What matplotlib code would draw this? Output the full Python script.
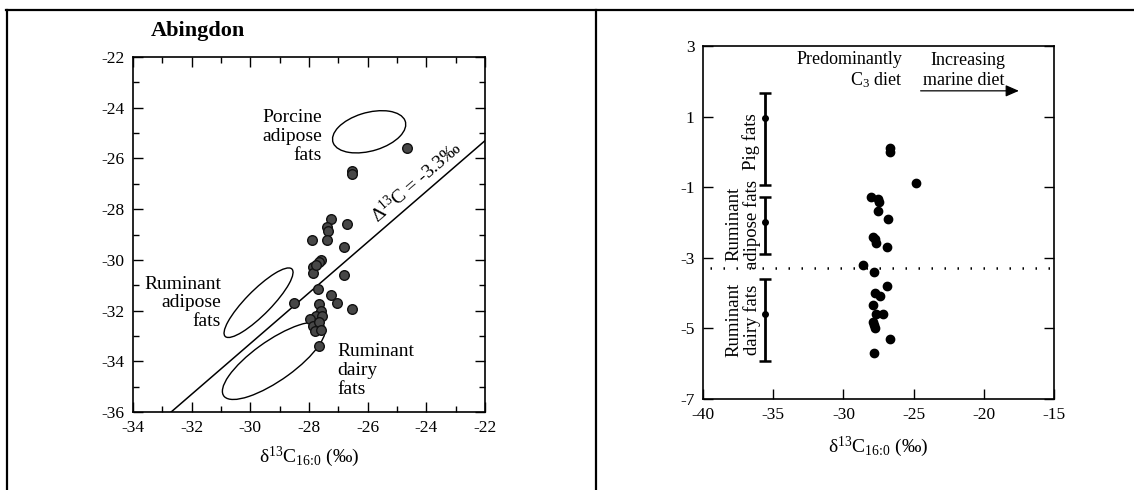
import numpy as np
import matplotlib
matplotlib.use('Agg')
import matplotlib.pyplot as plt
from matplotlib.patches import Ellipse
from matplotlib.lines import Line2D
from matplotlib.ticker import MultipleLocator

plt.rcParams['font.family'] = ['Liberation Serif', 'DejaVu Serif']
plt.rcParams['mathtext.fontset'] = 'custom'
plt.rcParams['mathtext.rm'] = 'Liberation Serif'
plt.rcParams['mathtext.it'] = 'Liberation Serif:italic'
plt.rcParams['mathtext.bf'] = 'Liberation Serif:bold'
plt.rcParams['axes.unicode_minus'] = False

# ---- Abingdon: d13C16:0 vs d13C18:0 ----
abg_x = [-24.65, -26.55, -26.55, -27.25, -27.4, -27.35, -27.4, -26.7, -27.9,
         -26.8, -27.6, -27.65, -27.85, -27.85, -27.75, -26.8, -27.7, -27.25,
         -27.05, -28.5, -26.55, -27.65, -27.6, -27.75, -27.55, -27.95, -27.85,
         -27.65, -27.8, -27.6, -27.65]
abg_y = [-25.6, -26.5, -26.6, -28.4, -28.7, -28.85, -29.2, -28.6, -29.2,
         -29.5, -30.0, -30.1, -30.3, -30.5, -30.2, -30.6, -31.15, -31.4,
         -31.7, -31.7, -31.95, -31.75, -32.0, -32.2, -32.2, -32.35, -32.6,
         -32.45, -32.8, -32.75, -33.4]

# reference ellipses: centre x, centre y, semi-major, semi-minor, angle
ellipse_names = ['Porcine', 'Ruminant adipose', 'Ruminant dairy']
ellipse_cx = [-25.95, -29.72, -29.2]
ellipse_cy = [-24.95, -31.69, -33.98]
ellipse_a = [1.3, 1.75, 2.2]
ellipse_b = [0.75, 0.45, 0.75]
ellipse_ang = [20, 50, 40]

line_offset = -3.3   # d13C18:0 = d13C16:0 - 3.3

# ---- Delta13C vs d13C16:0 ----
d16 = [-26.65, -26.65, -24.8, -28.0, -27.5, -27.45, -27.5, -26.8, -27.9,
       -27.75, -27.7, -26.9, -28.6, -27.8, -26.9, -27.75, -27.4, -27.9,
       -27.7, -27.2, -27.9, -27.8, -27.75, -26.65, -27.8]
big_delta = [0.12, 0.0, -0.88, -1.29, -1.34, -1.42, -1.68, -1.9, -2.41,
             -2.48, -2.58, -2.69, -3.21, -3.4, -3.79, -3.99, -4.08, -4.34,
             -4.58, -4.58, -4.81, -4.9, -5.0, -5.3, -5.69]

ref_names = ['Pig fats', 'Ruminant\nadipose fats', 'Ruminant\ndairy fats']
ref_mean = [0.97, -1.98, -4.6]
ref_low = [-0.94, -2.9, -5.92]
ref_high = [1.68, -1.29, -3.6]
ref_x = -35.6

xlabel = 'δ$^{13}$C$_{16\\!:\\!0}$ (‰)'

fig = plt.figure(figsize=(11.34, 4.9), dpi=100)
W, H = 1134, 490

def px_axes(l, t, r, b):
    return fig.add_axes([l / W, 1 - b / H, (r - l) / W, (b - t) / H])

# frame lines of the table layout
fig.add_artist(Line2D([6 / W, 1], [1 - 10.5 / H] * 2, color='black', lw=1.6))
fig.add_artist(Line2D([7 / W] * 2, [0, 1 - 10.5 / H], color='black', lw=1.6))
fig.add_artist(Line2D([595.5 / W] * 2, [0, 1 - 10.5 / H], color='black', lw=1.6))

# ================= left panel =================
ax1 = px_axes(133, 57, 485, 412)
ax1.set_xlim(-34, -22)
ax1.set_ylim(-36, -22)

xx = np.array([-34, -22])
ax1.plot(xx, xx + line_offset, color='black', lw=1.1)

for cx, cy, a, b, ang in zip(ellipse_cx, ellipse_cy, ellipse_a, ellipse_b, ellipse_ang):
    ax1.add_patch(Ellipse((cx, cy), 2 * a, 2 * b, angle=ang, fill=False,
                          edgecolor='black', lw=1.0))

ax1.scatter(abg_x, abg_y, s=48, facecolor='#474747', edgecolor='#111111',
            linewidths=1.0, zorder=5)

ax1.text(-27.56, -25.13, 'Porcine\nadipose\nfats', ha='right', va='center',
         multialignment='right', fontsize=14, linespacing=1.15)
ax1.text(-31.0, -31.7, 'Ruminant\nadipose\nfats', ha='right', va='center',
         multialignment='right', fontsize=14, linespacing=1.15)
ax1.text(-27.03, -34.35, 'Ruminant\ndairy\nfats', ha='left', va='center',
         multialignment='left', fontsize=14, linespacing=1.15)

ang = np.degrees(np.arctan2(355 / 14, 352 / 12))
ax1.text(-25.55, -28.7, 'Δ$^{13}$C = -3.3‰', rotation=ang,
         rotation_mode='anchor', ha='left', va='bottom', fontsize=14)

ax1.text(0.05, 1.045, 'Abingdon', transform=ax1.transAxes, fontsize=16,
         fontweight='bold', ha='left', va='bottom')

ax1.xaxis.set_major_locator(MultipleLocator(2))
ax1.xaxis.set_minor_locator(MultipleLocator(1))
ax1.yaxis.set_major_locator(MultipleLocator(2))
ax1.yaxis.set_minor_locator(MultipleLocator(1))
ax1.tick_params(which='both', direction='in', top=True, right=True,
                labelsize=12.5, width=1.0)
ax1.tick_params(which='major', length=7, pad=6)
ax1.tick_params(which='minor', length=4)
ax1.set_xlabel(xlabel, fontsize=14, labelpad=6)
for sp in ax1.spines.values():
    sp.set_linewidth(1.2)

# ================= right panel =================
ax2 = px_axes(703, 46, 1054, 399)
ax2.set_xlim(-40, -15)
ax2.set_ylim(-7, 3)

ax2.axhline(line_offset, xmin=0.02, xmax=0.995, color='black', lw=1.8,
            linestyle=(0, (0.6, 4.6)))

yerr = [np.array(ref_mean) - np.array(ref_low), np.array(ref_high) - np.array(ref_mean)]
ax2.errorbar([ref_x] * 3, ref_mean, yerr=yerr, fmt='o', color='black', ms=4,
             elinewidth=2.0, capsize=4, capthick=1.8)

ax2.scatter(d16, big_delta, s=36, color='black', zorder=5)

ax2.text(-36.6, 0.28, ref_names[0], rotation=90, ha='center', va='center', fontsize=13.5)
ax2.text(-37.15, -2.05, ref_names[1], rotation=90, ha='center', va='center',
         fontsize=13.5, linespacing=1.05)
ax2.text(-37.15, -4.76, ref_names[2], rotation=90, ha='center', va='center',
         fontsize=13.5, linespacing=1.05)

ax2.text(-25.8, 2.31, 'Predominantly\nC$_3$ diet', ha='right', va='center',
         multialignment='right', fontsize=13, linespacing=1.2)
ax2.text(-24.3, 2.31, 'Increasing\nmarine diet', ha='left', va='center',
         multialignment='right', fontsize=13, linespacing=1.2)
ax2.annotate('', xy=(-17.5, 1.73), xytext=(-24.5, 1.73),
             arrowprops=dict(arrowstyle='-|>,head_length=0.8,head_width=0.35',
                             color='black', lw=0.9, shrinkA=0, shrinkB=0))

ax2.set_xticks(np.arange(-40, -14, 5))
ax2.set_yticks([3, 1, -1, -3, -5, -7])
ax2.tick_params(direction='in', right=True, top=False, labelsize=12.5,
                length=7, width=1.0, pad=6)
ax2.set_xlabel(xlabel, fontsize=14, labelpad=8)
for sp in ax2.spines.values():
    sp.set_linewidth(1.2)

fig.savefig('out.png', dpi=100)
